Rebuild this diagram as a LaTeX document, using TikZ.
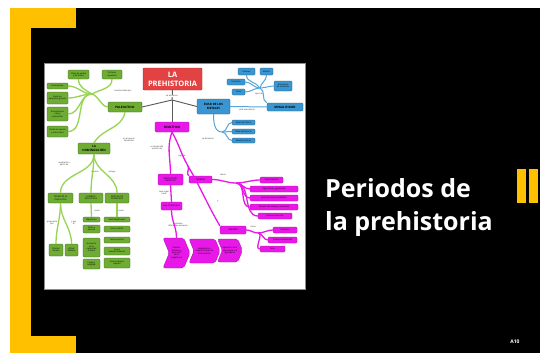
\documentclass[tikz,border=0pt]{standalone}
\usepackage{fontspec}
\setmainfont{Open Sans}
\usepackage{tikz}
\usetikzlibrary{positioning,shapes.symbols}
\definecolor{slideyellow}{RGB}{255,192,0}
\definecolor{mapgreen}{RGB}{110,172,52}
\definecolor{mapgreenln}{RGB}{150,212,82}
\definecolor{mappink}{RGB}{232,24,232}
\definecolor{mapblue}{RGB}{58,150,210}
\definecolor{mapred}{RGB}{226,66,66}
\newcommand\maptxt{\fontsize{2.1}{2.4}\selectfont}
\newcommand\maphead{\fontsize{3}{3.3}\selectfont\bfseries}

\begin{document}
\begin{tikzpicture}[x=1pt,y=-1pt,
  mapbox/.style={rounded corners=1pt,inner sep=0.3pt,align=center,font=\maptxt,text=black},
  greenbox/.style={mapbox,fill=mapgreen,draw=mapgreen!55!black,line width=0.3pt},
  pinkbox/.style={mapbox,fill=mappink,draw=mappink!70!black,line width=0.3pt},
  bluebox/.style={mapbox,fill=mapblue,draw=mapblue!60!black,line width=0.3pt},
  headbox/.style={font=\maphead},
  chevron/.style={pinkbox,signal,signal from=west,signal to=east,signal pointer angle=135,rounded corners=2pt},
  linklbl/.style={font=\maptxt,inner sep=0.3pt,align=center,text=black!85},
  greenln/.style={mapgreenln,line width=1.3pt},
  pinkln/.style={mappink,line width=1.3pt},
  blueln/.style={mapblue!85,line width=1pt},
  grayln/.style={black!65,line width=0.9pt},
]
  \useasboundingbox (0,0) rectangle (540,353);
  \fill[white] (0,0) rectangle (540,353);
  \fill[slideyellow] (10,8) rectangle (76,353);
  \fill[black] (31,28) rectangle (540,336);
  \fill[black] (76,8) rectangle (540,353);
  \filldraw[fill=white,draw=black!45,line width=0.4pt] (44,63) rectangle (305,289);

  % prehistoria
  \node[mapbox,fill=mapred,draw=mapred!70!black,text=white,font=\fontsize{7.5}{9}\selectfont\bfseries,
    minimum width=59pt,minimum height=22pt] (prehist) at (172.5,79) {LA\\PREHISTORIA};
  \coordinate (split) at (172,100);

  % paleolitico
  \node[greenbox,headbox,minimum width=34pt,minimum height=10pt] (paleo) at (125,107) {PALEOLÍTICO};
  \node[greenbox,minimum width=21pt,minimum height=9pt] (tools) at (78.5,74.5) {Útiles de piedra\\y de hueso};
  \node[greenbox,minimum width=20pt,minimum height=9pt] (art) at (112,74.5) {Pinturas\\rupestres};
  \node[greenbox,minimum width=21pt,minimum height=6pt] (nomad) at (57.5,86) {Nomadismo};
  \node[greenbox,minimum width=21pt,minimum height=12pt] (grupos) at (57.5,98) {Vivían en\\pequeños grupos};
  \node[greenbox,minimum width=21pt,minimum height=14pt] (econ) at (57.5,114) {Economía de\\caza y\\recolección};
  \node[greenbox,minimum width=21pt,minimum height=11pt] (cuevas) at (57.5,131.5) {Vivían en cuevas\\y al aire libre};
  \node[linklbl] at (123,91) {caracterizado por};
  \coordinate (gj) at (92,94);

  \node[greenbox,headbox,minimum width=32pt,minimum height=11pt] (homin) at (94,148.5) {LA\\HOMINIZACIÓN};
  \node[linklbl] at (129,140) {en el que se\\desarrolla};
  \node[greenbox,minimum width=25pt,minimum height=10pt] (teoria) at (60.5,198) {TEORÍA DE LA\\EVOLUCIÓN};
  \node[greenbox,minimum width=24pt,minimum height=10pt] (cambev) at (91,198) {CAMBIOS\\EVOLUTIVOS};
  \node[greenbox,minimum width=24pt,minimum height=10pt] (especies) at (117,198) {ESPECIES DE\\HOMÍNIDOS};
  \node[linklbl] at (64,164) {explicada a\\partir de};
  \node[linklbl] at (95,172) {supone};
  \node[linklbl] at (112,172) {incluye};
  \node[greenbox,minimum width=14pt,minimum height=12pt] (darwin) at (56,250) {Charles\\Darwin};
  \node[greenbox,minimum width=13pt,minimum height=12pt] (wallace) at (71.5,250) {Alfred\\Wallace};
  \node[linklbl] at (52,223) {propuesta\\por};
  \node[linklbl] at (74,223) {y por\\él};
  \node[linklbl] at (97,211) {como};
  \node[linklbl] at (121,211) {como};
  \foreach \t/\y/\h [count=\i] in {Bipedismo/219.5/5,{Pelvis y\\piernas}/229/8,
      {Aumento\\de la\\capacidad\\craneal}/247.5/19,{Fuego y\\lenguaje}/264/10}
    \node[greenbox,minimum width=17pt,minimum height=\h pt] (evo\i) at (91.5,\y) {\t};
  \foreach \t/\y/\h [count=\i] in {Australopithecus/219.5/5,{Homo habilis}/229/6,{Homo erectus}/240/6,
      {Homo\\neanderthalensis}/251/8,{Homo sapiens\\sapiens}/263/10}
    \node[greenbox,minimum width=26pt,minimum height=\h pt] (hom\i) at (117,\y) {\t};

  % metales
  \node[bluebox,headbox,minimum width=33pt,minimum height=15pt] (metales) at (213.5,106.5) {EDAD DE LOS\\METALES};
  \node[bluebox,headbox,minimum width=36pt,minimum height=8pt] (megal) at (285,107) {MEGALITISMO};
  \node[linklbl] at (247,110) {está asociada al};
  \node[bluebox,minimum width=17pt,minimum height=7pt] (dolmen) at (246.5,71.5) {Dolmen};
  \node[bluebox,minimum width=13pt,minimum height=7pt] (menhir) at (266.5,71.5) {Menhir};
  \node[bluebox,minimum width=18pt,minimum height=6pt] (cromlech) at (236,82) {Crómlech};
  \node[bluebox,minimum width=13pt,minimum height=6pt] (taula) at (238.5,92) {Taula};
  \node[bluebox,minimum width=18pt,minimum height=10pt] (alin) at (283,86) {Alineación\\de menhires};
  \node[linklbl] at (259,94) {tipos de};
  \coordinate (mj) at (260,88);
  \node[bluebox,minimum width=23pt,minimum height=5pt] (cobre) at (243.5,122.5) {Edad del Cobre};
  \node[bluebox,minimum width=23pt,minimum height=5pt] (bronce) at (243.5,131.5) {Edad del Bronce};
  \node[bluebox,minimum width=23pt,minimum height=5pt] (hierro) at (243.5,140.5) {Edad del Hierro};
  \node[linklbl] at (208,139) {se divide en};
  \coordinate (bj) at (222,132);

  % neolitico
  \node[pinkbox,headbox,minimum width=34pt,minimum height=10pt] (neo) at (172,127) {NEOLÍTICO};
  \node[pinkbox,minimum width=25pt,minimum height=11pt] (revol) at (170.5,179.5) {REVOLUCIÓN\\NEOLÍTICA};
  \node[pinkbox,minimum width=21pt,minimum height=8pt] (fecha) at (171.5,206) {hace 10.000 años};
  \node[pinkbox,minimum width=23pt,minimum height=7pt] (cambios) at (200.5,179.5) {CAMBIOS};
  \node[pinkbox,minimum width=26pt,minimum height=8pt] (avances) at (233,230) {AVANCES};
  \node[linklbl] at (157,148) {se desarrolla\\a partir de};
  \node[linklbl] at (182,156) {supone};
  \node[linklbl] at (164,193) {tuvo lugar\\hace};
  \node[linklbl,fill=white] at (178,225) {mediante\\diferentes procesos};
  \node[linklbl] at (223,175) {sobre};
  \node[linklbl] at (218,201) {y};
  \node[linklbl] at (253,227) {como};
  \coordinate (nj) at (188,166);
  \coordinate (cj) at (236,183);
  \coordinate (aj) at (258,233);
  \foreach \t/\x/\y/\w [count=\i] in {Sedentarismo/271.5/180/23,{Agricultura y ganadería}/274/189/48,
      {Aparición de los poblados}/274/198/48,{División del trabajo y artesanía}/274/207/48,
      {Nuevas creencias}/275/216/34}
    \node[pinkbox,minimum width=\w pt,minimum height=6pt] (chg\i) at (\x,\y) {\t};
  \foreach \t/\x/\y/\w [count=\i] in {Cerámica/285/230/24,{Piedra pulimentada}/282.5/240/29,Telar/272.5/249/25}
    \node[pinkbox,minimum width=\w pt,minimum height=6pt] (adv\i) at (\x,\y) {\t};
  \node[chevron,minimum width=27pt,minimum height=30pt] (proc1) at (176.5,253) {Cambio\\climático y\\extinción\\de la\\megafauna};
  \node[chevron,minimum width=31pt,minimum height=24pt] (proc2) at (204.5,251) {Adaptación a\\nuevas formas de\\alimentación};
  \node[chevron,minimum width=25pt,minimum height=23pt] (proc3) at (230,250.5) {Aparición de la\\agricultura y la\\ganadería};

  % connectors
  \draw[grayln] (prehist.south) -- (split);
  \draw[grayln] (split) -- (paleo.east);
  \draw[grayln] (split) -- (metales.west);
  \draw[grayln] (split) -- (neo.north);
  \node[linklbl,fill=white] at (172,96) {se divide en};

  \draw[greenln] (paleo.west) to[out=170,in=-20] (gj);
  \foreach \n in {nomad,grupos,econ,cuevas}
    \draw[greenln] (gj) to[out=180,in=0] (\n.east);
  \draw[greenln] (gj) to[out=150,in=-90] (tools.south);
  \draw[greenln] (gj) to[out=30,in=-90] (art.south);
  \draw[greenln] (paleo.south) to[out=-100,in=60] (homin.north);
  \foreach \n in {teoria,cambev,especies}
    \draw[greenln] (homin.south) to[out=-90,in=90] (\n.north);
  \draw[greenln] (teoria.south) to[out=-90,in=90] (darwin.north);
  \draw[greenln] (teoria.south) to[out=-90,in=90] (wallace.north);
  \draw[greenln] (cambev.south) -- (evo1.north);
  \draw[greenln] (especies.south) -- (hom1.north);

  \draw[blueln] (metales.east) -- (megal.west);
  \draw[blueln] (megal.north west) to[out=160,in=-20] (mj);
  \foreach \n in {cromlech,taula}
    \draw[blueln] (mj) to[out=180,in=0] (\n.east);
  \draw[blueln] (mj) to[out=120,in=-90] (dolmen.south);
  \draw[blueln] (mj) to[out=80,in=-90] (menhir.south);
  \draw[blueln] (mj) to[out=0,in=180] (alin.west);
  \draw[blueln] (metales.south) to[out=-90,in=180] (bj);
  \foreach \n in {cobre,bronce,hierro}
    \draw[blueln] (bj) to[out=0,in=180] (\n.west);

  \draw[pinkln] (neo.south) to[out=-110,in=90] (revol.north);
  \draw[pinkln] (neo.south) to[out=-60,in=120] (nj) to[out=-60,in=150] (cambios.north west);
  \draw[pinkln] (nj) to[out=-60,in=120] (avances.north west);
  \draw[pinkln] (cambios.east) to[out=0,in=180] (cj);
  \foreach \n in {chg1,chg2,chg3,chg4,chg5}
    \draw[pinkln] (cj) to[out=0,in=180] (\n.west);
  \draw[pinkln] (avances.east) to[out=0,in=180] (aj);
  \foreach \n in {adv1,adv2,adv3}
    \draw[pinkln] (aj) to[out=0,in=180] (\n.west);
  \draw[pinkln] (revol.south) -- (fecha.north);
  \draw[pinkln] (fecha.south) to[out=-90,in=90] (proc1.north);

  % slide title
  \node[anchor=base west,text=white,inner sep=0pt,font=\fontsize{25}{33}\selectfont\bfseries] (ttl1) at (325,197) {Periodos de};
  \node[anchor=base west,text=white,inner sep=0pt,font=\fontsize{25}{33}\selectfont\bfseries] (ttl2) at (325,230) {la prehistoria};
  \fill[slideyellow] (517,169) rectangle (526,203);
  \fill[slideyellow] (529,169) rectangle (538,203);
  \node[text=white,font=\fontsize{5}{6}\selectfont\bfseries,inner sep=0pt] (page) at (515,341.5) {A10};
\end{tikzpicture}
\end{document}
